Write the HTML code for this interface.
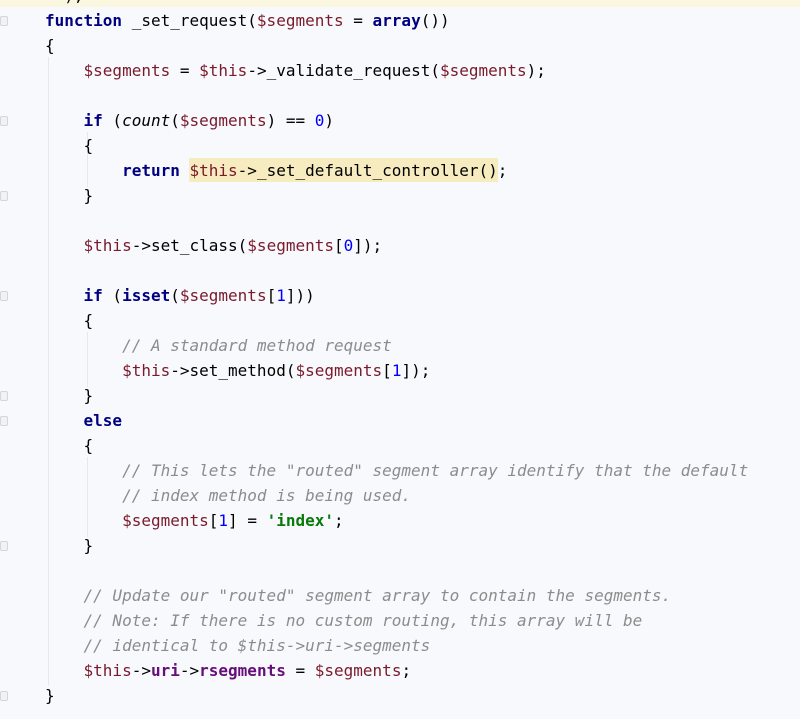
<!DOCTYPE html>
<html><head><meta charset="utf-8"><style>
html,body{margin:0;padding:0}
body{width:800px;height:719px;background:#f7f9fc;position:relative;overflow:hidden}
.topbar{position:absolute;left:0;top:0;width:800px;height:7px;background:#fbf6df}
.hl{position:absolute;left:189px;top:158px;width:309px;height:24px;background:#f7ebc0}
.guide{position:absolute;width:1px;background:#e6e8ec}
pre{position:absolute;left:45px;top:-17px;margin:0;font-family:"DejaVu Sans Mono","Liberation Mono",monospace;font-size:16px;line-height:25px;color:#000}
.k{color:#000080;font-weight:bold}
.v{color:#7a1a2b}
.n{color:#0000ff}
.c{color:#8c8c8c;font-style:italic}
.s{color:#0a7a0a;font-weight:bold}
.p{color:#660e7a;font-weight:bold}
.i{font-style:italic}
.g{position:absolute;left:0;width:6px;height:8px;border:1px solid #d4d6da;border-radius:2px;background:#f1f2f4}
</style></head><body>
<div class="topbar"></div>
<div class="hl"></div>
<div class="guide" style="left:48px;top:57px;height:628px"></div>
<div class="guide" style="left:87px;top:132px;height:55px"></div>
<div class="guide" style="left:87px;top:332px;height:55px"></div>
<div class="guide" style="left:87px;top:457px;height:80px"></div>
<div class="g" style="top:16px"></div>
<div class="g" style="top:116px"></div>
<div class="g" style="top:191px"></div>
<div class="g" style="top:291px"></div>
<div class="g" style="top:391px"></div>
<div class="g" style="top:416px"></div>
<div class="g" style="top:541px"></div>
<div class="g" style="top:691px"></div>
<pre>  );
<span class="k">function</span> _set_request(<span class="v">$segments</span> = <span class="k">array</span>())
{
    <span class="v">$segments</span> = <span class="v">$this</span>-&gt;_validate_request(<span class="v">$segments</span>);

    <span class="k">if</span> (<span class="i">count</span>(<span class="v">$segments</span>) == <span class="n">0</span>)
    {
        <span class="k">return</span> <span class="v">$this</span>-&gt;_set_default_controller();
    }

    <span class="v">$this</span>-&gt;set_class(<span class="v">$segments</span>[<span class="n">0</span>]);

    <span class="k">if</span> (<span class="k">isset</span>(<span class="v">$segments</span>[<span class="n">1</span>]))
    {
        <span class="c">// A standard method request</span>
        <span class="v">$this</span>-&gt;set_method(<span class="v">$segments</span>[<span class="n">1</span>]);
    }
    <span class="k">else</span>
    {
        <span class="c">// This lets the "routed" segment array identify that the default</span>
        <span class="c">// index method is being used.</span>
        <span class="v">$segments</span>[<span class="n">1</span>] = <span class="s">'index'</span>;
    }

    <span class="c">// Update our "routed" segment array to contain the segments.</span>
    <span class="c">// Note: If there is no custom routing, this array will be</span>
    <span class="c">// identical to $this-&gt;uri-&gt;segments</span>
    <span class="v">$this</span>-&gt;<span class="p">uri</span>-&gt;<span class="p">rsegments</span> = <span class="v">$segments</span>;
}</pre>
</body></html>
